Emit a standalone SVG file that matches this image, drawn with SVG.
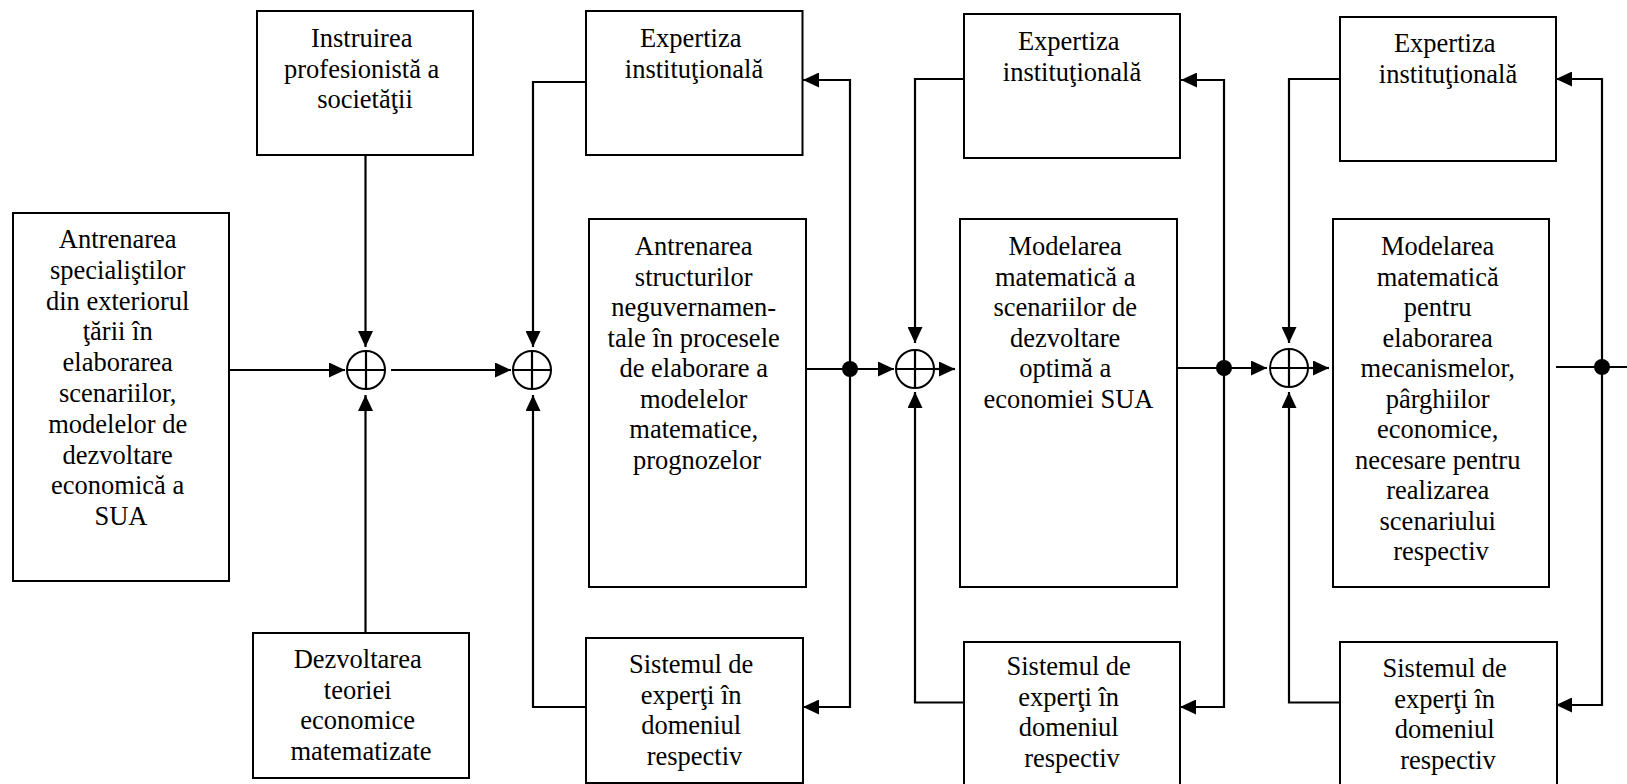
<svg xmlns="http://www.w3.org/2000/svg" width="1627" height="784" viewBox="0 0 1627 784">
  <style>
    .box { fill: #ffffff; stroke: #000000; stroke-width: 2; }
    .lbl { font-family: "Liberation Serif", "Times New Roman", serif; font-size: 26.5px; fill: #000000; text-anchor: middle; }
    .wire { fill: none; stroke: #000000; stroke-width: 2.2; }
    .arr { marker-end: url(#head); }
    .sum { fill: #ffffff; stroke: #000000; stroke-width: 2; }
    .dot { fill: #000000; }
  </style>
  <defs>
    <marker id="head" viewBox="0 0 16 15" refX="16" refY="7.5" markerWidth="16" markerHeight="15" markerUnits="userSpaceOnUse" orient="auto">
      <path d="M0,0 L16,7.5 L0,15 Z" fill="#000000"/>
    </marker>
    <g id="sumjunction">
      <circle class="sum" cx="0" cy="0" r="19"/>
      <path class="wire" d="M-19,0 H19 M0,-19 V19"/>
    </g>
  </defs>

  <rect width="1627" height="784" fill="#ffffff"/>

  <!-- connectors -->
  <g id="connectors">
    <!-- inputs into the first summing junction -->
    <path class="wire arr" d="M229,370 H345"/>
    <path class="wire arr" d="M365.5,155 V347"/>
    <path class="wire arr" d="M365.5,633 V395"/>
    <path class="wire arr" d="M391,370 H511"/>
    <!-- second junction with feedback branches -->
    <path class="wire arr" d="M586,82 H533 V347"/>
    <path class="wire arr" d="M586,707 H533 V395"/>
    <!-- stage 1 output -->
    <path class="wire" d="M806,369 H850"/>
    <path class="wire arr" d="M850,369 V80 H803"/>
    <path class="wire arr" d="M850,369 V707 H803"/>
    <path class="wire arr" d="M850,369 H894"/>
    <path class="wire arr" d="M934,369 H955"/>
    <path class="wire arr" d="M964,79 H915 V343"/>
    <path class="wire arr" d="M964,702.5 H915 V392"/>
    <!-- stage 2 output -->
    <path class="wire" d="M1177,368 H1224"/>
    <path class="wire arr" d="M1224,368 V80 H1181"/>
    <path class="wire arr" d="M1224,368 V707 H1180"/>
    <path class="wire arr" d="M1224,368 H1267"/>
    <path class="wire arr" d="M1308,368 H1329"/>
    <path class="wire arr" d="M1340,79 H1289 V343"/>
    <path class="wire arr" d="M1340,702.5 H1289 V392"/>
    <!-- stage 3 output -->
    <path class="wire" d="M1556,367 H1627"/>
    <path class="wire arr" d="M1602,367 V79 H1556"/>
    <path class="wire arr" d="M1602,367 V705 H1556"/>
    <!-- branch points -->
    <circle class="dot" cx="850" cy="369" r="8"/>
    <circle class="dot" cx="1224" cy="368" r="8"/>
    <circle class="dot" cx="1602" cy="367" r="8"/>
  </g>

  <!-- summing junctions -->
  <g id="sum1"><use href="#sumjunction" x="366" y="370"/></g>
  <g id="sum2"><use href="#sumjunction" x="532" y="370"/></g>
  <g id="sum3"><use href="#sumjunction" x="915" y="369"/></g>
  <g id="sum4"><use href="#sumjunction" x="1289" y="368"/></g>

  <g id="antrenarea-specialisti">
    <rect class="box" x="13" y="213" width="216" height="368"/>
    <text class="lbl">
      <tspan x="121" y="248">Antrenarea</tspan>
      <tspan x="121" y="278.8">specialiştilor</tspan>
      <tspan x="121" y="309.6">din exteriorul</tspan>
      <tspan x="121" y="340.4">ţării în</tspan>
      <tspan x="121" y="371.2">elaborarea</tspan>
      <tspan x="121" y="402">scenariilor,</tspan>
      <tspan x="121" y="432.8">modelelor de</tspan>
      <tspan x="121" y="463.6">dezvoltare</tspan>
      <tspan x="121" y="494.4">economică a</tspan>
      <tspan x="121" y="525.2">SUA</tspan>
    </text>
  </g>

  <g id="instruirea">
    <rect class="box" x="257" y="11" width="216" height="144"/>
    <text class="lbl">
      <tspan x="365" y="47">Instruirea</tspan>
      <tspan x="365" y="77.5">profesionistă a</tspan>
      <tspan x="365" y="108">societăţii</tspan>
    </text>
  </g>

  <g id="dezvoltarea-teoriei">
    <rect class="box" x="253" y="633" width="216" height="145"/>
    <text class="lbl">
      <tspan x="361" y="668">Dezvoltarea</tspan>
      <tspan x="361" y="698.5">teoriei</tspan>
      <tspan x="361" y="729">economice</tspan>
      <tspan x="361" y="759.5">matematizate</tspan>
    </text>
  </g>

  <g id="expertiza-1">
    <rect class="box" x="586" y="11" width="216.5" height="144"/>
    <text class="lbl">
      <tspan x="694" y="47">Expertiza</tspan>
      <tspan x="694" y="77.5">instituţională</tspan>
    </text>
  </g>

  <g id="antrenarea-structuri">
    <rect class="box" x="589" y="219" width="217" height="368"/>
    <text class="lbl">
      <tspan x="697" y="255">Antrenarea</tspan>
      <tspan x="697" y="285.5">structurilor</tspan>
      <tspan x="697" y="316">neguvernamen-</tspan>
      <tspan x="697" y="346.5">tale în procesele</tspan>
      <tspan x="697" y="377">de elaborare a</tspan>
      <tspan x="697" y="407.5">modelelor</tspan>
      <tspan x="697" y="438">matematice,</tspan>
      <tspan x="697" y="468.5">prognozelor</tspan>
    </text>
  </g>

  <g id="sistem-experti-1">
    <rect class="box" x="586" y="638" width="217" height="145"/>
    <text class="lbl">
      <tspan x="694.5" y="673">Sistemul de</tspan>
      <tspan x="694.5" y="703.5">experţi în</tspan>
      <tspan x="694.5" y="734">domeniul</tspan>
      <tspan x="694.5" y="764.5">respectiv</tspan>
    </text>
  </g>

  <g id="expertiza-2">
    <rect class="box" x="964" y="14" width="216" height="144"/>
    <text class="lbl">
      <tspan x="1072" y="50">Expertiza</tspan>
      <tspan x="1072" y="80.5">instituţională</tspan>
    </text>
  </g>

  <g id="modelarea-scenarii">
    <rect class="box" x="960" y="219" width="217" height="368"/>
    <text class="lbl">
      <tspan x="1068.5" y="255">Modelarea</tspan>
      <tspan x="1068.5" y="285.5">matematică a</tspan>
      <tspan x="1068.5" y="316">scenariilor de</tspan>
      <tspan x="1068.5" y="346.5">dezvoltare</tspan>
      <tspan x="1068.5" y="377">optimă a</tspan>
      <tspan x="1068.5" y="407.5">economiei SUA</tspan>
    </text>
  </g>

  <g id="sistem-experti-2">
    <rect class="box" x="964" y="642" width="216" height="150"/>
    <text class="lbl">
      <tspan x="1072" y="675">Sistemul de</tspan>
      <tspan x="1072" y="705.5">experţi în</tspan>
      <tspan x="1072" y="736">domeniul</tspan>
      <tspan x="1072" y="766.5">respectiv</tspan>
    </text>
  </g>

  <g id="expertiza-3">
    <rect class="box" x="1340" y="17" width="216" height="144"/>
    <text class="lbl">
      <tspan x="1448" y="52">Expertiza</tspan>
      <tspan x="1448" y="82.5">instituţională</tspan>
    </text>
  </g>

  <g id="modelarea-mecanisme">
    <rect class="box" x="1333" y="219" width="216" height="368"/>
    <text class="lbl">
      <tspan x="1441" y="255">Modelarea</tspan>
      <tspan x="1441" y="285.5">matematică</tspan>
      <tspan x="1441" y="316">pentru</tspan>
      <tspan x="1441" y="346.5">elaborarea</tspan>
      <tspan x="1441" y="377">mecanismelor,</tspan>
      <tspan x="1441" y="407.5">pârghiilor</tspan>
      <tspan x="1441" y="438">economice,</tspan>
      <tspan x="1441" y="468.5">necesare pentru</tspan>
      <tspan x="1441" y="499">realizarea</tspan>
      <tspan x="1441" y="529.5">scenariului</tspan>
      <tspan x="1441" y="560">respectiv</tspan>
    </text>
  </g>

  <g id="sistem-experti-3">
    <rect class="box" x="1340" y="642" width="217" height="150"/>
    <text class="lbl">
      <tspan x="1448" y="677">Sistemul de</tspan>
      <tspan x="1448" y="707.5">experţi în</tspan>
      <tspan x="1448" y="738">domeniul</tspan>
      <tspan x="1448" y="768.5">respectiv</tspan>
    </text>
  </g>
</svg>
